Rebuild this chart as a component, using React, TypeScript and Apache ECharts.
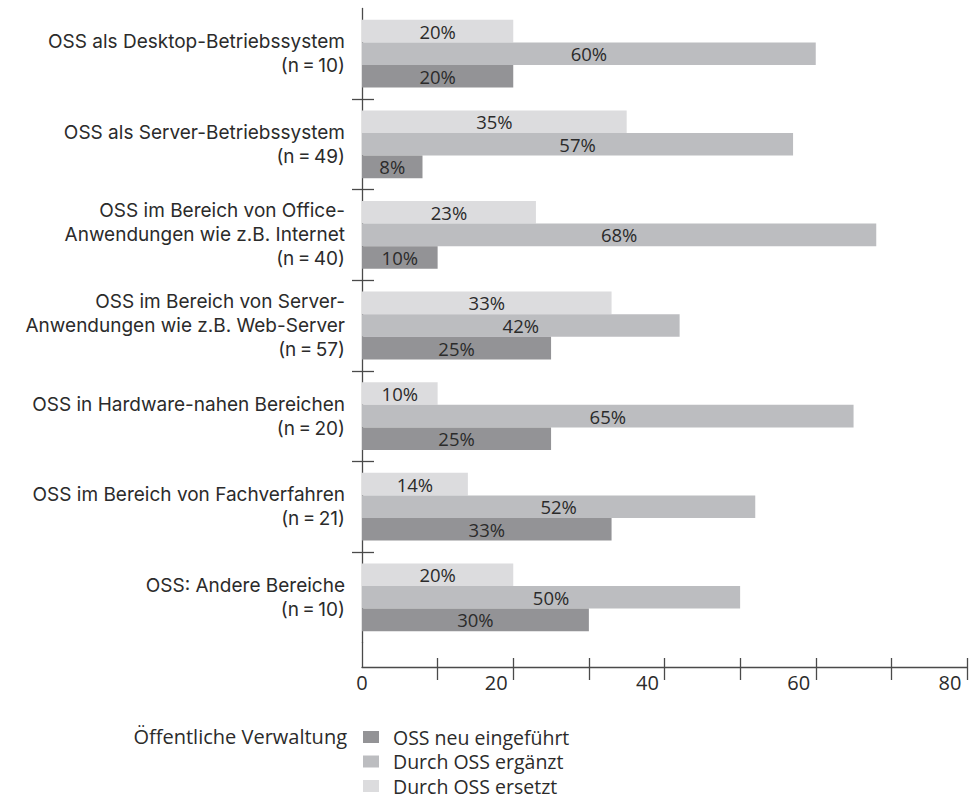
import React, { useEffect, useRef } from "react";
import * as echarts from "echarts";

const categories = [
  "OSS als Desktop-Betriebssystem\n(n\u2009=\u200910)",
  "OSS als Server-Betriebssystem\n(n\u2009=\u200949)",
  "OSS im Bereich von Office-\nAnwendungen wie z.B. Internet\n(n\u2009=\u200940)",
  "OSS im Bereich von Server-\nAnwendungen wie z.B. Web-Server\n(n\u2009=\u200957)",
  "OSS in Hardware-nahen Bereichen\n(n\u2009=\u200920)",
  "OSS im Bereich von Fachverfahren\n(n\u2009=\u200921)",
  "OSS: Andere Bereiche\n(n\u2009=\u200910)",
];
const ersetzt = [20, 35, 23, 33, 10, 14, 20];
const ergaenzt = [60, 57, 68, 42, 65, 52, 50];
const neuEingefuehrt = [20, 8, 10, 25, 25, 33, 30];
const seriesNames = ["OSS neu eingeführt", "Durch OSS ergänzt", "Durch OSS ersetzt"];
const legendTitle = "Öffentliche Verwaltung";
const xTickValues = [10, 20, 30, 40, 50, 60, 70, 80];
const xLabelValues = [0, 20, 40, 60, 80];
const xMin = 0;
const xMax = 80;

const FONT = "'Open Sans', 'Noto Sans', sans-serif";
const CAT_FONT = "Inter, 'Open Sans', sans-serif";
const TEXT = "#2b2b2b";
const AXIS = "#4a4a4a";
const C_NEU = "#939396";
const C_ERG = "#bcbdc0";
const C_ERS = "#dcdcde";

export default function App() {
  const ref = useRef<HTMLDivElement>(null);
  useEffect(() => {
    if (!ref.current) return;
    const chart = echarts.init(ref.current, undefined, { renderer: "svg" });
    const boundaryTicks = categories.slice(1).map((_, i) => i + 1);
    const barLabel = {
      show: true,
      position: "inside",
      formatter: "{c}%",
      fontFamily: FONT,
      fontSize: 18.5,
      color: TEXT,
    };
    const option: any = {
      animation: false,
      textStyle: { fontFamily: FONT },
      title: {
        text: legendTitle,
        right: 624,
        top: 726,
        padding: 0,
        textStyle: { fontFamily: FONT, fontSize: 20, fontWeight: "normal", color: TEXT },
      },
      legend: {
        orient: "vertical",
        left: 363,
        top: 727,
        padding: 0,
        itemWidth: 16,
        itemHeight: 12,
        itemGap: 4.5,
        icon: "rect",
        data: seriesNames,
        textStyle: {
          fontFamily: FONT,
          fontSize: 19.5,
          lineHeight: 20,
          color: TEXT,
          padding: [0, 0, 0, 9],
        },
      },
      grid: [
        { left: 362, top: 8.4, width: 605, height: 634.2, outerBoundsMode: "none", containLabel: false },
        { left: 362, top: 642.6, width: 605, height: 24.4, outerBoundsMode: "none", containLabel: false },
      ],
      xAxis: [
        { gridIndex: 0, type: "value", min: xMin, max: xMax, show: false },
        {
          gridIndex: 1,
          type: "value",
          min: xMin,
          max: xMax,
          interval: 10,
          position: "bottom",
          axisLine: { show: true, onZero: false, lineStyle: { color: AXIS, width: 1.3 } },
          axisTick: {
            show: true,
            inside: false,
            length: 13,
            customValues: xTickValues,
            lineStyle: { color: AXIS, width: 1.3 },
          },
          axisLabel: {
            show: true,
            customValues: xLabelValues,
            margin: 5,
            fontFamily: FONT,
            fontSize: 20,
            color: TEXT,
            formatter: (v: number) => (v === 0 ? `{c|${v}}` : `{c|${v}}{s|}`),
            rich: {
              c: { fontFamily: FONT, fontSize: 20, color: TEXT },
              s: { width: 34 },
            },
          },
          splitLine: { show: false },
        },
        {
          gridIndex: 1,
          type: "value",
          min: xMin,
          max: xMax,
          interval: 10,
          position: "bottom",
          axisLine: { show: false, onZero: false },
          axisTick: {
            show: true,
            inside: true,
            length: 9,
            customValues: xTickValues,
            lineStyle: { color: AXIS, width: 1.3 },
          },
          axisLabel: { show: false },
          splitLine: { show: false },
        },
      ],
      yAxis: [
        {
          gridIndex: 0,
          type: "category",
          position: "left",
          data: categories,
          inverse: true,
          axisLine: { show: false, onZero: false },
          axisTick: { show: false },
          axisLabel: {
            margin: 17,
            fontFamily: CAT_FONT,
            fontSize: 19,
            lineHeight: 24,
            color: TEXT,
            align: "right",
          },
        },
        {
          gridIndex: 0,
          type: "value",
          position: "left",
          min: 0,
          max: categories.length,
          inverse: true,
          axisLine: { show: true, onZero: false, lineStyle: { color: AXIS, width: 1.3 } },
          axisTick: {
            show: true,
            inside: false,
            length: 10,
            customValues: boundaryTicks,
            lineStyle: { color: AXIS, width: 1.3 },
          },
          axisLabel: { show: false },
          splitLine: { show: false },
        },
        {
          gridIndex: 0,
          type: "value",
          position: "left",
          min: 0,
          max: categories.length,
          inverse: true,
          axisLine: { show: false, onZero: false },
          axisTick: {
            show: true,
            inside: true,
            length: 12,
            customValues: boundaryTicks,
            lineStyle: { color: AXIS, width: 1.3 },
          },
          axisLabel: { show: false },
          splitLine: { show: false },
        },
        {
          gridIndex: 1,
          type: "value",
          position: "left",
          min: 0,
          max: 1,
          axisLine: { show: true, onZero: false, lineStyle: { color: AXIS, width: 1.3 } },
          axisTick: { show: false },
          axisLabel: { show: false },
          splitLine: { show: false },
        },
      ],
      series: [
        {
          name: seriesNames[2],
          type: "bar",
          xAxisIndex: 0,
          yAxisIndex: 0,
          data: ersetzt,
          barWidth: 22.6,
          barGap: "0%",
          itemStyle: { color: C_ERS },
          label: barLabel,
        },
        {
          name: seriesNames[1],
          type: "bar",
          xAxisIndex: 0,
          yAxisIndex: 0,
          data: ergaenzt,
          barWidth: 22.6,
          barGap: "0%",
          itemStyle: { color: C_ERG },
          label: barLabel,
        },
        {
          name: seriesNames[0],
          type: "bar",
          xAxisIndex: 0,
          yAxisIndex: 0,
          data: neuEingefuehrt,
          barWidth: 22.6,
          barGap: "0%",
          itemStyle: { color: C_NEU },
          label: barLabel,
        },
      ],
    };
    chart.setOption(option);
    return () => chart.dispose();
  }, []);
  return (
    <div
      ref={ref}
      style={{ position: "fixed", left: 0, top: 0, width: 971, height: 798, background: "#fff" }}
    />
  );
}
